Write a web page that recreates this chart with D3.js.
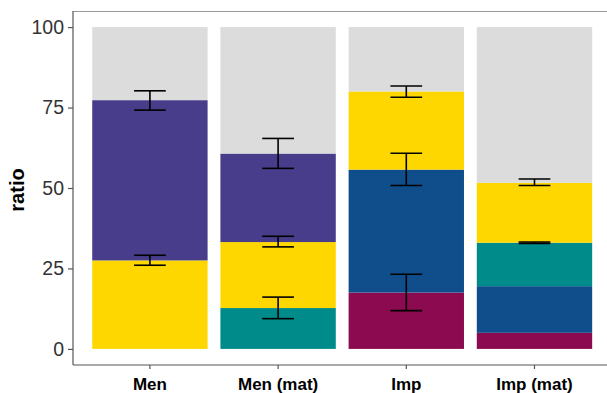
<!DOCTYPE html>
<html><head><meta charset="utf-8">
<script src="https://cdn.jsdelivr.net/npm/d3@7"></script>
<style>body{margin:0;background:#fff}svg{display:block}</style>
</head><body><svg id="c" width="607" height="393"></svg>
<script>
const categories = ["Men", "Men (mat)", "Imp", "Imp (mat)"];
const segmentKeys = ["magenta", "blue", "teal", "yellow", "purple", "rest"];
// segment heights per category (stacked bottom->top)
const magentaVals = [0, 0, 17.5, 5.0];
const blueVals    = [0, 0, 38.2, 14.5];
const tealVals    = [0, 12.7, 0, 13.5];
const yellowVals  = [27.5, 20.5, 24.3, 18.6];
const purpleVals  = [49.8, 27.5, 0, 0];
const colors = {magenta:"#8B0A50", blue:"#104E8B", teal:"#008B8B", yellow:"#FFD700", purple:"#483D8B", rest:"#DCDCDC"};
// error bars: category, low, high
const errCat  = ["Men","Men","Men (mat)","Men (mat)","Men (mat)","Imp","Imp","Imp","Imp (mat)","Imp (mat)"];
const errLow  = [26.0, 74.2, 9.4, 31.7, 56.1, 11.9, 50.8, 78.2, 32.8, 50.8];
const errHigh = [29.1, 80.2, 16.1, 35.0, 65.4, 23.2, 60.8, 81.7, 33.2, 52.8];
const yTicks = [0, 25, 50, 75, 100];

const svg = d3.select("#c");
const L = 73, R = 611.4, T = 11, B = 365;
const x = d3.scaleBand().domain(categories).range([L, R]).paddingInner(0.1).paddingOuter(0.15);
const y = d3.scaleLinear().domain([-5, 105]).range([B, T]);
const FONT = "Liberation Sans, Arial, Helvetica, sans-serif";

const rows = categories.map((c, i) => {
  const o = {cat: c, magenta: magentaVals[i], blue: blueVals[i], teal: tealVals[i], yellow: yellowVals[i], purple: purpleVals[i]};
  o.rest = 100 - (o.magenta + o.blue + o.teal + o.yellow + o.purple);
  return o;
});
const stack = d3.stack().keys(segmentKeys)(rows);

svg.append("g").selectAll("g").data(stack).join("g").attr("fill", d => colors[d.key])
  .selectAll("rect").data(d => d.filter(s => s[1] - s[0] > 0)).join("rect")
  .attr("x", d => x(d.data.cat)).attr("width", x.bandwidth())
  .attr("y", d => y(d[1])).attr("height", d => y(d[0]) - y(d[1]));

const ew = x.bandwidth() * 0.275;
const eg = svg.append("g").attr("stroke", "#000").attr("stroke-width", 1.6).attr("fill", "none");
errCat.forEach((c, i) => {
  const cx = x(c) + x.bandwidth() / 2;
  eg.append("line").attr("x1", cx).attr("x2", cx).attr("y1", y(errLow[i])).attr("y2", y(errHigh[i]));
  eg.append("line").attr("x1", cx - ew/2).attr("x2", cx + ew/2).attr("y1", y(errLow[i])).attr("y2", y(errLow[i]));
  eg.append("line").attr("x1", cx - ew/2).attr("x2", cx + ew/2).attr("y1", y(errHigh[i])).attr("y2", y(errHigh[i]));
});

// top border
svg.append("line").attr("x1", L).attr("x2", 607).attr("y1", T + 0.5).attr("y2", T + 0.5).attr("stroke", "#999").attr("stroke-width", 1.2);

const ya = svg.append("g").attr("transform", `translate(${L},0)`)
  .call(d3.axisLeft(y).tickValues(yTicks).tickSize(5).tickPadding(4));
ya.select(".domain").attr("d", `M0,${T}V${B}`).attr("stroke", "#555").attr("stroke-width", 1.2);
ya.selectAll(".tick line").attr("stroke", "#555").attr("stroke-width", 1.2);
ya.selectAll(".tick text").attr("fill", "#333").style("font-family", FONT).style("font-size", "19.5px");

const xa = svg.append("g").attr("transform", `translate(0,${B})`)
  .call(d3.axisBottom(x).tickSize(4).tickPadding(9));
xa.select(".domain").attr("d", `M${L},0H607`).attr("stroke", "#555").attr("stroke-width", 1.2);
xa.selectAll(".tick line").attr("stroke", "#555").attr("stroke-width", 1.2);
xa.selectAll(".tick text").attr("fill", "#000").style("font-family", FONT).style("font-size", "17px").style("font-weight", "bold");

svg.append("text").attr("transform", `translate(24,${(T + B) / 2 + 2}) rotate(-90)`)
  .attr("text-anchor", "middle").style("font-family", FONT)
  .style("font-size", "20px").style("font-weight", "bold").text("ratio");
</script></body></html>
